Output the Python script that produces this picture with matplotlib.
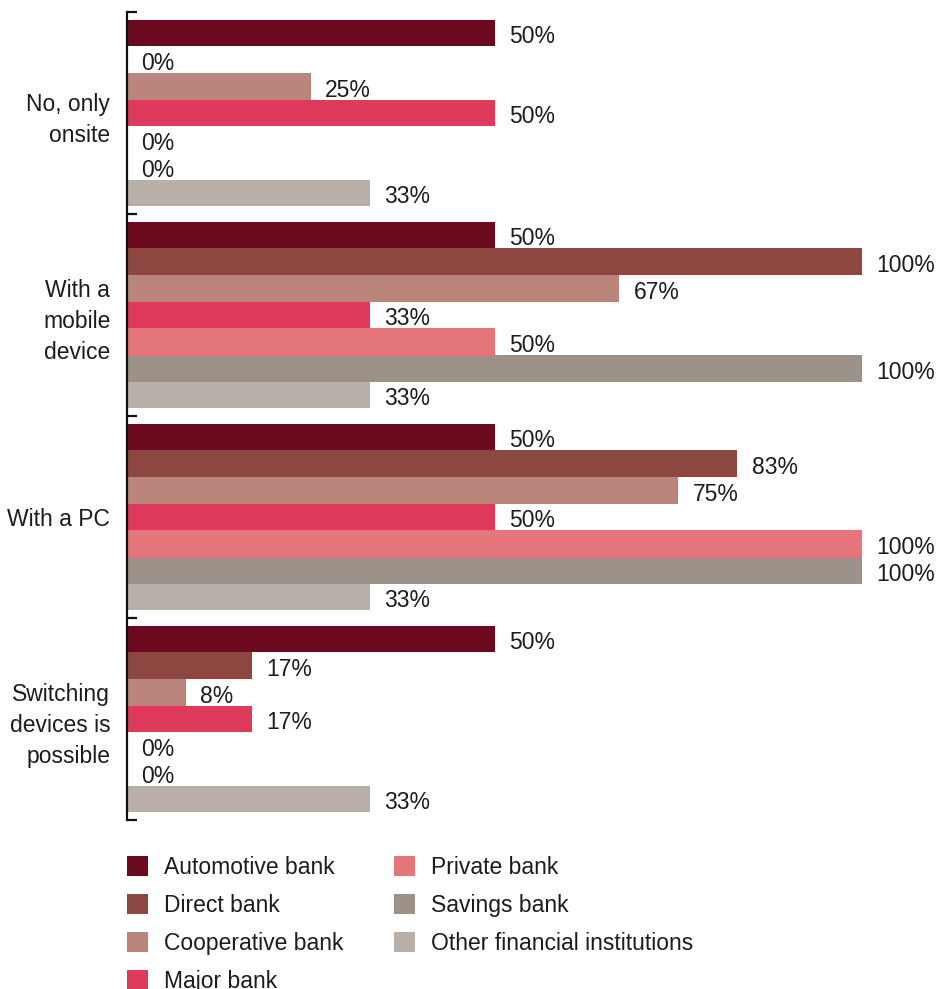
import numpy as np
import matplotlib.pyplot as plt
from matplotlib.patches import Patch

plt.rcParams['font.family'] = ['Liberation Sans', 'DejaVu Sans']

categories = ["No, only\nonsite", "With a\nmobile\ndevice", "With a PC", "Switching\ndevices is\npossible"]
series = ["Automotive bank", "Direct bank", "Cooperative bank", "Major bank",
          "Private bank", "Savings bank", "Other financial institutions"]
colors = ["#6B0A1E", "#8D4741", "#BA867C", "#DE3B5C", "#E5767C", "#9B9188", "#B8B0A8"]

# percent per category, one list per series
automotive = [50, 50, 50, 50]
direct = [0, 100, 83, 17]
cooperative = [25, 67, 75, 8]
major = [50, 33, 50, 17]
private = [0, 50, 100, 0]
savings = [0, 100, 100, 0]
other = [33, 33, 33, 33]
values = [automotive, direct, cooperative, major, private, savings, other]

text_color = "#1c1c1c"
fs = 16.5

fig = plt.figure(figsize=(9.36, 9.89), dpi=100)
ax = fig.add_axes([127/936, 1 - 820/989, 735/936, 808/989])

ind = np.arange(len(categories))
h = 0.1322
for j, (name, vals, c) in enumerate(zip(series, values, colors)):
    y = ind + (j - 3) * h
    bars = ax.barh(y, vals, height=h, color=c, label=name, linewidth=0)
    for yy, v in zip(y, vals):
        ax.annotate(f"{v}%", xy=(v, yy), xytext=(10.5, -2.7), textcoords="offset points",
                    ha="left", va="center", fontsize=fs, color=text_color)

ax.set_xlim(0, 100)
ax.set_ylim(3.5, -0.5)
ax.set_xticks([])
for s in ["top", "right", "bottom"]:
    ax.spines[s].set_visible(False)
ax.spines["left"].set_linewidth(1.6)
ax.spines["left"].set_color("#111111")

# boundary ticks on the axis, category names in between
ax.set_yticks(np.arange(-0.5, 4, 1))
ax.set_yticklabels([])
ax.tick_params(axis="y", which="major", direction="in", length=7, width=1.6, color="#111111")
ax.set_yticks(ind, minor=True)
ax.set_yticklabels(categories, minor=True, fontsize=fs, color=text_color,
                   linespacing=1.45, ha="right")
ax.tick_params(axis="y", which="minor", length=0, pad=12)

handles = [Patch(facecolor=c, edgecolor="none", label=n) for n, c in zip(series, colors)]
fig.legend(handles=handles, loc="upper left", bbox_to_anchor=(120/936, 1 - 849/989),
           ncol=2, frameon=False, fontsize=fs, handlelength=0.92, handleheight=0.96,
           handletextpad=0.7, labelspacing=0.66, columnspacing=2.22,
           labelcolor=text_color, borderaxespad=0, borderpad=0.3)

fig.savefig("out.png", dpi=100)
